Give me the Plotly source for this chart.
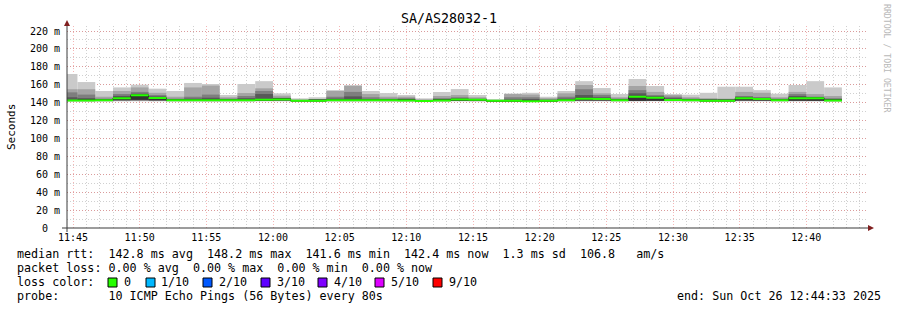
import plotly.graph_objects as go
import pandas as pd

# ---------------- data (ms) ----------------
step_seconds = 80
first_step_start = "2025-10-26 11:44:00"
range_start = "2025-10-26 11:44:33"
range_end = "2025-10-26 12:44:33"

median = [142.4,142.4,142.6,145.0,148.2,145.2,142.6,142.8,142.8,142.6,
          142.6,143.2,143.5,142.2,142.2,142.6,142.8,142.6,142.6,142.4,
          141.8,142.4,143.6,143.2,142.0,142.0,141.6,142.0,142.6,144.4,
          144.2,142.6,146.6,145.5,143.0,142.6,142.2,142.2,144.8,144.2,
          142.6,144.8,144.8,142.4]

ping_min = [141.3,141.2,141.3,141.4,141.5,141.4,141.3,141.3,141.2,141.3,
            141.3,141.4,141.4,141.1,141.1,141.3,141.3,141.3,141.2,141.2,
            140.9,141.2,141.4,141.3,141.0,141.0,140.8,141.0,141.3,141.4,
            141.4,141.3,141.5,141.5,141.4,141.3,141.1,141.1,141.4,141.4,
            141.3,141.5,141.5,141.2]
ping_2 = [141.6,141.5,141.6,141.8,142.0,141.8,141.6,141.6,141.5,141.6,
          141.6,141.8,141.8,141.4,141.4,141.6,141.6,141.6,141.5,141.5,
          141.2,141.5,141.8,141.6,141.3,141.3,141.1,141.3,141.6,141.8,
          141.8,141.6,141.7,141.8,141.7,141.6,141.4,141.4,141.8,141.8,
          141.6,141.7,141.7,141.5]
ping_3 = [141.9,141.8,141.9,142.2,142.4,142.2,141.9,141.9,141.8,141.9,
          141.9,142.1,142.2,141.7,141.7,141.9,141.9,141.9,141.8,141.8,
          141.4,141.8,142.1,141.9,141.6,141.6,141.3,141.6,141.9,142.1,
          142.1,141.9,141.8,141.9,142.0,141.9,141.7,141.7,142.1,142.1,
          141.9,141.9,141.9,141.8]
ping_4 = [142.1,142.1,142.2,142.6,142.8,142.5,142.2,142.2,142.1,142.2,
          142.2,142.4,142.6,141.9,141.9,142.2,142.2,142.2,142.1,142.1,
          141.6,142.1,142.4,142.2,141.8,141.8,141.5,141.8,142.2,142.4,
          142.4,142.2,141.9,142.1,142.4,142.2,141.9,141.9,142.4,142.3,
          142.2,142.1,142.0,142.1]
ping_5 = [142.3,142.3,142.4,143.0,143.2,142.8,142.4,142.5,142.4,142.4,
          142.4,142.8,143.0,142.1,142.1,142.4,142.5,142.4,142.3,142.3,
          141.7,142.3,142.8,142.6,141.9,141.9,141.6,141.9,142.4,142.6,
          142.6,142.4,142.0,142.2,142.6,142.4,142.1,142.1,142.6,142.5,
          142.4,142.3,142.2,142.3]
ping_6 = [142.9,143.0,143.2,146.0,149.2,146.0,143.2,143.4,143.4,143.2,
          143.2,144.0,144.2,142.7,142.8,143.2,143.5,143.2,143.2,143.0,
          142.3,143.0,144.2,143.8,142.5,142.6,142.2,142.5,143.2,145.5,
          145.0,143.2,147.6,146.5,143.8,143.2,142.7,142.7,145.6,145.0,
          143.2,146.0,146.0,143.0]
ping_7 = [146.0,145.0,143.5,147.5,150.0,147.0,143.5,144.5,145.5,143.5,
          145.0,149.6,144.5,142.9,143.0,144.5,147.0,144.0,143.5,143.5,
          142.6,143.5,144.5,143.8,142.7,143.5,144.0,143.0,144.5,148.5,
          146.0,143.5,150.4,147.0,145.0,143.5,143.0,143.0,146.5,145.5,
          143.5,147.5,146.5,143.5]
ping_8 = [151.5,149.0,144.5,149.6,152.0,148.5,144.5,146.6,149.0,144.5,
          147.4,153.0,145.5,143.0,143.2,146.6,152.0,146.0,144.5,145.0,
          143.0,145.0,146.0,144.5,143.0,146.0,146.0,143.8,146.6,155.0,
          148.5,144.5,154.0,148.5,146.6,144.5,143.5,143.5,147.4,146.0,
          144.5,149.6,146.0,145.0]
ping_9 = [155.0,155.0,146.6,153.0,157.0,151.0,146.6,157.0,159.0,146.0,
          150.7,156.0,147.8,143.5,144.0,153.0,158.6,149.6,146.6,146.6,
          143.5,147.4,148.5,146.0,143.2,149.6,149.0,145.0,150.4,159.7,
          150.4,146.0,158.6,152.0,148.5,146.0,145.0,144.5,152.0,151.0,
          146.0,152.0,149.6,147.4]
ping_max = [172.0,163.0,153.0,157.0,160.0,155.6,153.0,162.0,160.8,148.5,
            160.8,164.0,150.4,144.8,146.0,154.0,159.7,153.0,150.7,148.5,
            144.8,151.9,155.2,148.5,143.7,150.2,151.0,146.6,153.0,164.0,
            156.3,149.6,166.4,158.6,149.6,148.9,151.0,157.8,157.8,154.0,
            150.0,159.7,164.0,157.0]

y_tick_values = [0, 20, 40, 60, 80, 100, 120, 140, 160, 180, 200, 220]
y_tick_labels = ["0  ", "20 m", "40 m", "60 m", "80 m", "100 m", "120 m",
                 "140 m", "160 m", "180 m", "200 m", "220 m"]
y_max = 225.6

loss_labels = ["0", "1/10", "2/10", "3/10", "4/10", "5/10", "9/10"]
loss_colors = ["#26ff00", "#00b8ff", "#0059ff", "#5e00ff", "#7e00ff", "#dd00ff", "#ff0000"]

stats_line = "median rtt:  142.8 ms avg  148.2 ms max  141.6 ms min  142.4 ms now  1.3 ms sd  106.8   am/s"
loss_line = "packet loss: 0.00 % avg  0.00 % max  0.00 % min  0.00 % now"
probe_line = "probe:       10 ICMP Echo Pings (56 Bytes) every 80s"
end_line = "end: Sun Oct 26 12:44:33 2025"
title = "SA/AS28032-1"

# ---------------- derived ----------------
n = len(median)
t0 = pd.Timestamp(first_step_start)
step = pd.Timedelta(seconds=step_seconds)
starts = [t0 + step * i for i in range(n)]
centers = [s + step / 2 for s in starts]
edges = starts + [starts[-1] + step]

W, H = 897, 310
L, R, T, B = 67, 30, 26, 82
PW = W - L - R
PH = H - T - B


def px(x):
    return (x - L) / PW


def py(y):
    return (H - B - y) / PH


def nb(s):
    return s.replace(" ", "\u00a0")


MONO = "DejaVu Sans Mono"
fig = go.Figure()

bands = [(ping_min, ping_max, "#cacaca"), (ping_2, ping_9, "#a4a4a4"),
         (ping_3, ping_8, "#7e7e7e"), (ping_4, ping_7, "#585858"),
         (ping_5, ping_6, "#323232")]
for lo, hi, col in bands:
    fig.add_trace(go.Bar(
        x=centers, y=[h - l for h, l in zip(hi, lo)], base=lo,
        width=step_seconds * 1000, marker=dict(color=col, line=dict(width=0)),
        hoverinfo="skip"))

med_ext = median + [median[-1]]
fig.add_trace(go.Scatter(x=edges, y=med_ext, mode="lines",
                         line=dict(color="#202020", width=1, shape="hv"),
                         hoverinfo="skip"))
sw = y_max / PH
fig.add_trace(go.Scatter(x=edges, y=[m - sw for m in med_ext], mode="lines",
                         line=dict(width=0, shape="hv"), hoverinfo="skip"))
fig.add_trace(go.Scatter(x=edges, y=[m + sw for m in med_ext], mode="lines",
                         line=dict(width=0, shape="hv"), fill="tonexty",
                         fillcolor=loss_colors[0], hoverinfo="skip"))

major_grid = "rgba(230,80,80,0.42)"
minor_grid = "rgba(143,143,143,0.42)"

fig.update_layout(
    width=W, height=H, margin=dict(l=L, r=R, t=T, b=B, pad=0),
    paper_bgcolor="white", plot_bgcolor="white", showlegend=False,
    barmode="overlay", font=dict(family=MONO, color="black", size=10),
    xaxis=dict(type="date", range=[range_start, range_end],
               tick0="2025-10-26 11:45:00", dtick=300000, tickformat="%H:%M",
               showgrid=True, gridcolor=major_grid, griddash="1px,2px", gridwidth=1,
               minor=dict(dtick=60000, showgrid=True, gridcolor=minor_grid,
                          griddash="1px,2px", gridwidth=1),
               zeroline=False, showline=False, ticks="", layer="above traces",
               tickfont=dict(family=MONO, size=10, color="black"),
               ticklabelstandoff=2, fixedrange=True),
    yaxis=dict(range=[0, y_max], tickvals=y_tick_values,
               ticktext=[nb(t) for t in y_tick_labels],
               showgrid=True, gridcolor=major_grid, griddash="1px,2px", gridwidth=1,
               minor=dict(dtick=10, showgrid=True, gridcolor=minor_grid,
                          griddash="1px,2px", gridwidth=1),
               zeroline=False, showline=False, ticks="", layer="above traces",
               tickfont=dict(family=MONO, size=10, color="black"),
               ticklabelstandoff=6, fixedrange=True),
)

shapes = []
axis_col = "#3a3a3a"
arrow_col = "#801f1f"
shapes.append(dict(type="line", xref="paper", yref="paper", x0=px(62), x1=px(869),
                   y0=py(228), y1=py(228), line=dict(color=axis_col, width=1), layer="above"))
shapes.append(dict(type="line", xref="paper", yref="paper", x0=px(67), x1=px(67),
                   y0=py(232), y1=py(23), line=dict(color=axis_col, width=1), layer="above"))
shapes.append(dict(type="path", xref="paper", yref="paper",
                   path=f"M {px(67)} {py(20)} L {px(64)} {py(26)} L {px(70)} {py(26)} Z",
                   fillcolor=arrow_col, line=dict(width=0), layer="above"))
shapes.append(dict(type="path", xref="paper", yref="paper",
                   path=f"M {px(874)} {py(228)} L {px(868)} {py(225)} L {px(868)} {py(231)} Z",
                   fillcolor=arrow_col, line=dict(width=0), layer="above"))

box_x = [108, 146, 203, 261, 318, 375, 433]
label_x = [123, 160, 218, 276, 333, 390, 448]
for bx, col in zip(box_x, loss_colors):
    shapes.append(dict(type="rect", xref="paper", yref="paper",
                       x0=px(bx), x1=px(bx + 9), y0=py(287), y1=py(278),
                       fillcolor=col, line=dict(color="black", width=1), layer="above"))
fig.update_layout(shapes=shapes)

ann = []
LEG = 11.7


def text(x, y, s, size=LEG, anchor="left", color="black", angle=0):
    ann.append(dict(x=px(x), y=py(y), xref="paper", yref="paper", text=nb(s),
                    showarrow=False, xanchor=anchor, yanchor="middle",
                    font=dict(family=MONO, size=size, color=color),
                    borderpad=0, textangle=angle))


text(448.5, 19, title, size=13.3, anchor="center")
text(11, 127, "Seconds", size=11, anchor="center", angle=-90)
text(887, 59, "RRDTOOL / TOBI OETIKER", size=8.2, anchor="center", color="#b8b8b8", angle=90)
text(16, 254, stats_line)
text(16, 268, loss_line)
text(16, 282, "loss color:")
for lx, lab in zip(label_x, loss_labels):
    text(lx, 282, lab)
text(16, 296, probe_line)
text(882, 296, end_line, anchor="right")
fig.update_layout(annotations=ann)

fig.write_html("out.html")
